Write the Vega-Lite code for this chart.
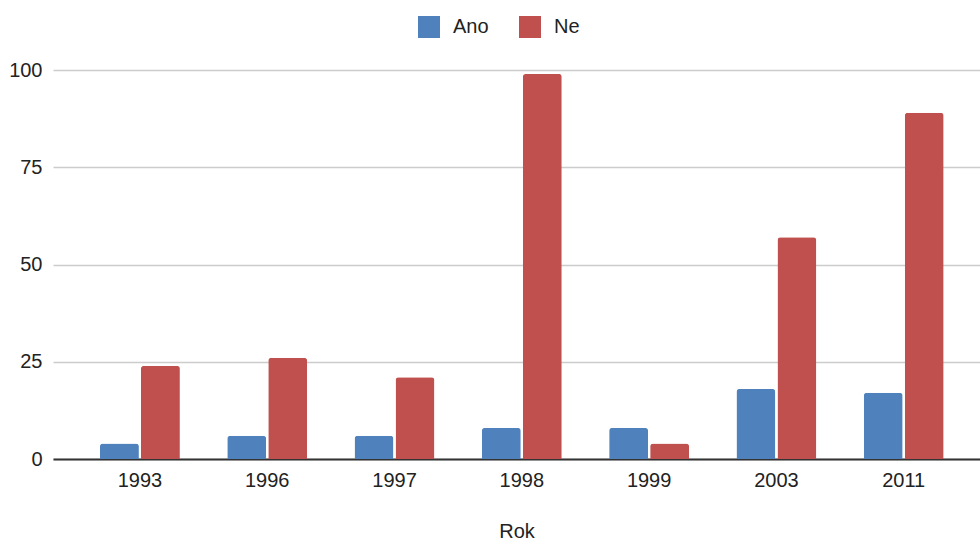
{
  "$schema": "https://vega.github.io/schema/vega-lite/v6.json",
  "width": 927,
  "height": 389,
  "autosize": "none",
  "padding": {"left": 53, "top": 70, "right": 0, "bottom": 82},
  "background": "white",
  "data": {
    "values": [
      {"Rok": "1993", "Odpověď": "Ano", "Počet": 4},
      {"Rok": "1993", "Odpověď": "Ne", "Počet": 24},
      {"Rok": "1996", "Odpověď": "Ano", "Počet": 6},
      {"Rok": "1996", "Odpověď": "Ne", "Počet": 26},
      {"Rok": "1997", "Odpověď": "Ano", "Počet": 6},
      {"Rok": "1997", "Odpověď": "Ne", "Počet": 21},
      {"Rok": "1998", "Odpověď": "Ano", "Počet": 8},
      {"Rok": "1998", "Odpověď": "Ne", "Počet": 99},
      {"Rok": "1999", "Odpověď": "Ano", "Počet": 8},
      {"Rok": "1999", "Odpověď": "Ne", "Počet": 4},
      {"Rok": "2003", "Odpověď": "Ano", "Počet": 18},
      {"Rok": "2003", "Odpověď": "Ne", "Počet": 57},
      {"Rok": "2011", "Odpověď": "Ano", "Počet": 17},
      {"Rok": "2011", "Odpověď": "Ne", "Počet": 89}
    ]
  },
  "mark": {"type": "bar", "cornerRadiusTopLeft": 3, "cornerRadiusTopRight": 3},
  "encoding": {
    "x": {
      "field": "Rok",
      "type": "nominal",
      "scale": {"paddingInner": 0.372, "paddingOuter": 0.327, "align": 0.564},
      "axis": {
        "title": "Rok",
        "labelAngle": 0,
        "ticks": false,
        "domainColor": "#333333",
        "domainWidth": 2,
        "labelPadding": 11,
        "titlePadding": 31,
        "grid": false
      }
    },
    "xOffset": {"field": "Odpověď", "scale": {"paddingInner": 0.05}},
    "y": {
      "field": "Počet",
      "type": "quantitative",
      "scale": {"domain": [0, 100]},
      "axis": {
        "title": null,
        "values": [0, 25, 50, 75, 100],
        "ticks": false,
        "domain": false,
        "labelPadding": 11,
        "gridColor": "#cccccc",
        "gridWidth": 1.5
      }
    },
    "color": {
      "field": "Odpověď",
      "type": "nominal",
      "scale": {"domain": ["Ano", "Ne"], "range": ["#4F81BD", "#C0504D"]},
      "legend": {
        "title": null,
        "orient": "none",
        "direction": "horizontal",
        "legendX": 365,
        "legendY": -54,
        "symbolType": "square",
        "symbolSize": 484,
        "symbolStrokeWidth": 0,
        "labelOffset": 13,
        "columnPadding": 30
      }
    }
  },
  "config": {
    "font": "Liberation Sans",
    "view": {"stroke": null},
    "axis": {
      "labelFont": "Liberation Sans",
      "titleFont": "Liberation Sans",
      "labelFontSize": 20,
      "titleFontSize": 20,
      "titleFontWeight": "normal",
      "labelColor": "#222222",
      "titleColor": "#222222"
    },
    "legend": {
      "labelFont": "Liberation Sans",
      "labelFontSize": 20,
      "labelColor": "#222222"
    }
  }
}
